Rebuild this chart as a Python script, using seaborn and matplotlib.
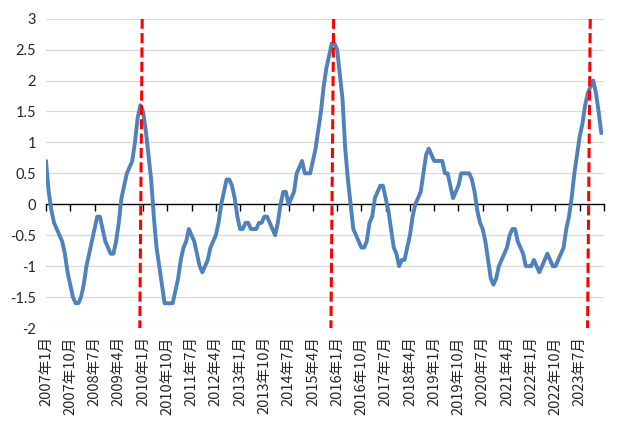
import numpy as np
import pandas as pd
import matplotlib
matplotlib.use("Agg")
import matplotlib.pyplot as plt
import seaborn as sns

# 月度指标（2007年1月起），读图估计
values = [
    0.7, 0.2, -0.1, -0.3, -0.4, -0.5, -0.6, -0.8, -1.1, -1.3,
    -1.5, -1.6, -1.6, -1.5, -1.3, -1.0, -0.8, -0.6, -0.4, -0.2,
    -0.2, -0.4, -0.6, -0.7, -0.8, -0.8, -0.6, -0.3, 0.1, 0.3,
    0.5, 0.6, 0.7, 1.0, 1.4, 1.6, 1.5, 1.2, 0.8, 0.4,
    -0.2, -0.7, -1.0, -1.3, -1.6, -1.6, -1.6, -1.6, -1.4, -1.2,
    -0.9, -0.7, -0.6, -0.4, -0.5, -0.6, -0.8, -1.0, -1.1, -1.0,
    -0.9, -0.7, -0.6, -0.5, -0.3, 0.0, 0.2, 0.4, 0.4, 0.3,
    0.1, -0.2, -0.4, -0.4, -0.3, -0.3, -0.4, -0.4, -0.4, -0.3,
    -0.3, -0.2, -0.2, -0.3, -0.4, -0.5, -0.3, 0.0, 0.2, 0.2,
    0.0, 0.1, 0.2, 0.5, 0.6, 0.7, 0.5, 0.5, 0.5, 0.7,
    0.9, 1.2, 1.5, 1.9, 2.2, 2.4, 2.6, 2.6, 2.5, 2.1,
    1.7, 0.9, 0.4, 0.0, -0.4, -0.5, -0.6, -0.7, -0.7, -0.6,
    -0.3, -0.2, 0.1, 0.2, 0.3, 0.3, 0.1, -0.1, -0.4, -0.7,
    -0.8, -1.0, -0.9, -0.9, -0.7, -0.5, -0.2, 0.0, 0.1, 0.2,
    0.5, 0.8, 0.9, 0.8, 0.7, 0.7, 0.7, 0.7, 0.5, 0.5,
    0.3, 0.1, 0.2, 0.3, 0.5, 0.5, 0.5, 0.5, 0.4, 0.2,
    -0.1, -0.3, -0.4, -0.6, -0.9, -1.2, -1.3, -1.2, -1.0, -0.9,
    -0.8, -0.7, -0.5, -0.4, -0.4, -0.6, -0.7, -0.8, -1.0, -1.0,
    -1.0, -0.9, -1.0, -1.1, -1.0, -0.9, -0.8, -0.9, -1.0, -1.0,
    -0.9, -0.8, -0.7, -0.4, -0.2, 0.1, 0.5, 0.8, 1.1, 1.3,
    1.6, 1.8, 1.9, 2.0, 1.8, 1.5, 1.15,
]
months = pd.date_range("2007-01-01", periods=len(values), freq="MS")

# 红色虚线（顶部 / 底部所在月份序号，原图略有倾斜）
marker_top = [35.7, 106.7, 201.9]
marker_bottom = [34.8, 105.7, 200.9]

df = pd.DataFrame({"idx": np.arange(len(values)), "value": values})

sns.set_theme(style="white")
plt.rcParams["font.family"] = ["Lato", "Noto Sans CJK SC", "DejaVu Sans"]
plt.rcParams["axes.unicode_minus"] = False

fig = plt.figure(figsize=(6.22, 4.29), dpi=100)
ax = fig.add_axes([46 / 622, 1 - 328 / 429, (604 - 46) / 622, (328 - 18.7) / 429])

# 网格线
for yv in np.arange(-2, 3.01, 0.5):
    if yv != 0:
        ax.axhline(yv, color="#d9d9d9", lw=0.9, zorder=0)

sns.lineplot(data=df, x="idx", y="value", ax=ax, color="#4f81bd", lw=2.8,
             zorder=3)

for t, b in zip(marker_top, marker_bottom):
    ax.plot([t, b], [3, -2], color="#ff0000", lw=2.2, dashes=(3.3, 1.4),
            zorder=4)

ax.set_xlim(0, 207)
ax.set_ylim(-2, 3)
ax.set_xlabel("")
ax.set_ylabel("")
for s in ax.spines.values():
    s.set_visible(False)

ax.set_yticks(np.arange(-2, 3.01, 0.5))
ax.set_yticklabels([f"{v:g}" for v in np.arange(-2, 3.01, 0.5)], fontsize=10.5)

tick_pos = list(range(0, len(values), 9))
ax.set_xticks(tick_pos)
ax.set_xticklabels([f"{months[i].year}年{months[i].month}月" for i in tick_pos],
                   rotation=90, fontsize=10.5,
                   family=["Noto Sans CJK SC", "DejaVu Sans"])
ax.tick_params(axis="both", length=0)
ax.tick_params(axis="x", pad=6)
ax.tick_params(axis="y", pad=7)

# 0 轴（带刻度）
sec = ax.secondary_xaxis(0.4)
sec.set_xticks(list(range(0, 208, 9)))
sec.tick_params(direction="out", length=5, width=1, color="black",
                labelbottom=False)
sec.spines["bottom"].set_color("black")
sec.spines["bottom"].set_linewidth(1)

fig.savefig("out.png", dpi=100)
